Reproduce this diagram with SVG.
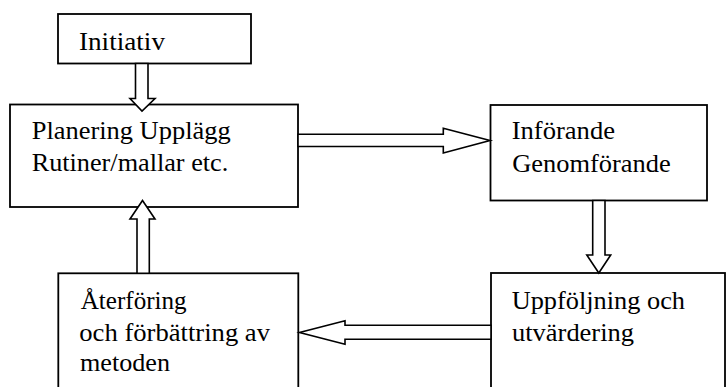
<svg xmlns="http://www.w3.org/2000/svg" width="726" height="387" viewBox="0 0 726 387">
<style>
.box{fill:#fff;stroke:#000;stroke-width:1.8}
.arr{fill:#fff;stroke:#000;stroke-width:1.6;stroke-linejoin:miter}
.t{font-family:'Liberation Serif','Times New Roman',Times,serif;font-size:24.5px;fill:#000}
</style>
<rect width="726" height="387" fill="#fff"/>
<g id="initiativ">
<rect class="box" x="58" y="14" width="193" height="49.5"/>
<text class="t" x="79" y="49.5" textLength="86" lengthAdjust="spacingAndGlyphs">Initiativ</text>
</g>
<g id="planering">
<rect class="box" x="10" y="104.5" width="288" height="102.5"/>
<text class="t" x="31.7" y="138.7" textLength="199" lengthAdjust="spacingAndGlyphs">Planering Upplägg</text>
<text class="t" x="31.7" y="170.5" textLength="196.6" lengthAdjust="spacingAndGlyphs">Rutiner/mallar etc.</text>
</g>
<g id="inforande">
<rect class="box" x="490.5" y="105" width="216.5" height="95.5"/>
<text class="t" x="511.7" y="139.3" textLength="103.3" lengthAdjust="spacingAndGlyphs">Införande</text>
<text class="t" x="512.3" y="171.7" textLength="158.4" lengthAdjust="spacingAndGlyphs">Genomförande</text>
</g>
<g id="uppfoljning">
<rect class="box" x="491" y="273" width="234" height="130"/>
<text class="t" x="511.7" y="308.5" textLength="173.3" lengthAdjust="spacingAndGlyphs">Uppföljning och</text>
<text class="t" x="512" y="341" textLength="122" lengthAdjust="spacingAndGlyphs">utvärdering</text>
</g>
<g id="aterforing">
<rect class="box" x="58.3" y="273.3" width="240" height="130"/>
<text class="t" x="80.7" y="308.5" textLength="106" lengthAdjust="spacingAndGlyphs">Återföring</text>
<text class="t" x="79.3" y="341.2" textLength="190.7" lengthAdjust="spacingAndGlyphs">och förbättring av</text>
<text class="t" x="80" y="371" textLength="90" lengthAdjust="spacingAndGlyphs">metoden</text>
</g>
<g id="connectors">
<polygon class="arr" points="135.5,63.5 148,63.5 148,98.5 155,98.5 142,111 130,98.5 135.5,98.5"/>
<polygon class="arr" points="298,134.3 443.3,134.3 443.3,128.3 490,140.5 443.3,153 443.3,146.5 298,146.5"/>
<polygon class="arr" points="592.7,200.5 605,200.5 605,255 610.7,255 598.8,273 586.8,255 592.7,255"/>
<polygon class="arr" points="491,325.2 345,325.2 345,320.7 299.5,332.5 345,344.3 345,339.3 491,339.3"/>
<polygon class="arr" points="137,273.3 149.3,273.3 149.3,219 155,219 142.5,200.5 130,219 137,219"/>
</g>
</svg>
